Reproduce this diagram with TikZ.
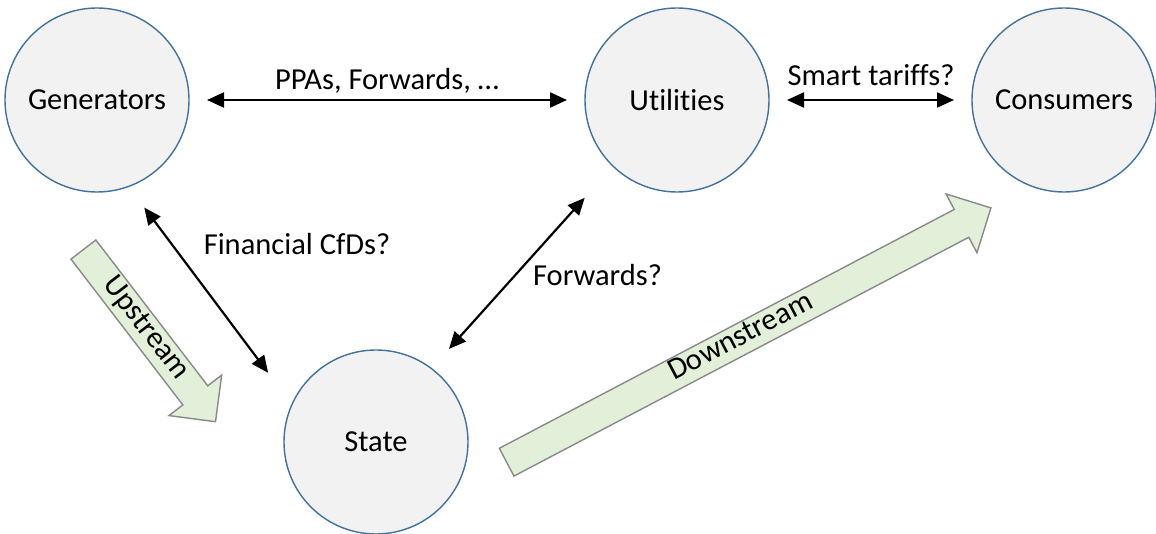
\documentclass[tikz,border=0pt]{standalone}
\usepackage{fontspec}
\setmainfont{Carlito}[Ligatures={NoCommon,NoContextual}]
\usepackage{tikz}
\usetikzlibrary{arrows.meta}
\usetikzlibrary{shapes.arrows}
\usepackage{xcolor}
\definecolor{ColRing}{RGB}{65,113,156}
\definecolor{ColDisc}{RGB}{242,242,242}
\definecolor{ColFlow}{RGB}{226,240,217}
\definecolor{ColFlowLine}{RGB}{137,137,137}
\tikzstyle{Party}=[circle,draw=ColRing,fill=ColDisc,line width=1.4bp,minimum size=184bp,
inner sep=0pt,outer sep=0pt]
\tikzstyle{Deal}=[{Triangle[length=17bp,width=15bp]}-{Triangle[length=17bp,width=15bp]},
line width=2.2bp]
\tikzstyle{DealText}=[anchor=base,inner sep=0pt]
\tikzstyle{Flow}=[single arrow,draw=ColFlowLine,fill=ColFlow,line width=1.4bp,
single arrow head extend=17.5bp,inner sep=0pt,text height=21bp,text depth=9bp,anchor=tail]

\begin{document}
\begin{tikzpicture}[x=1bp,y=-1bp,font=\fontsize{30.5bp}{36bp}\selectfont]
        \useasboundingbox(0,0)rectangle(1156,534);
        \node[Flow,rotate=-52.5,minimum height=217bp](up)at(83,249){Upstream};
        \node[Flow,rotate=27.7,minimum height=547bp](down)at(506,462.5){Downstream};
        \node[Party](gen)at(97,100){Generators};
        \node[Party](util)at(677,100){Utilities};
        \node[Party](cons)at(1064,100){Consumers};
        \node[Party](state)at(376,442){State};
        \draw[Deal,shorten <=18bp,shorten >=18bp](gen)--(util);
        \draw[Deal,shorten <=18bp,shorten >=18bp](util)--(cons);
        \draw[Deal,shorten <=26.4bp,shorten >=39.7bp](gen.-70.9)--(state.156);
        \draw[Deal,shorten <=26.3bp,shorten >=42.5bp](state.53)--(util.226);
        \node[DealText](ppa)at(387,90){PPAs, Forwards, …};
        \node[DealText](tariff)at(871,86){Smart tariffs?};
        \node[DealText](cfd)at(297,255){Financial CfDs?};
        \node[DealText](fwd)at(597.5,286){Forwards?};
    \end{tikzpicture}
\end{document}
